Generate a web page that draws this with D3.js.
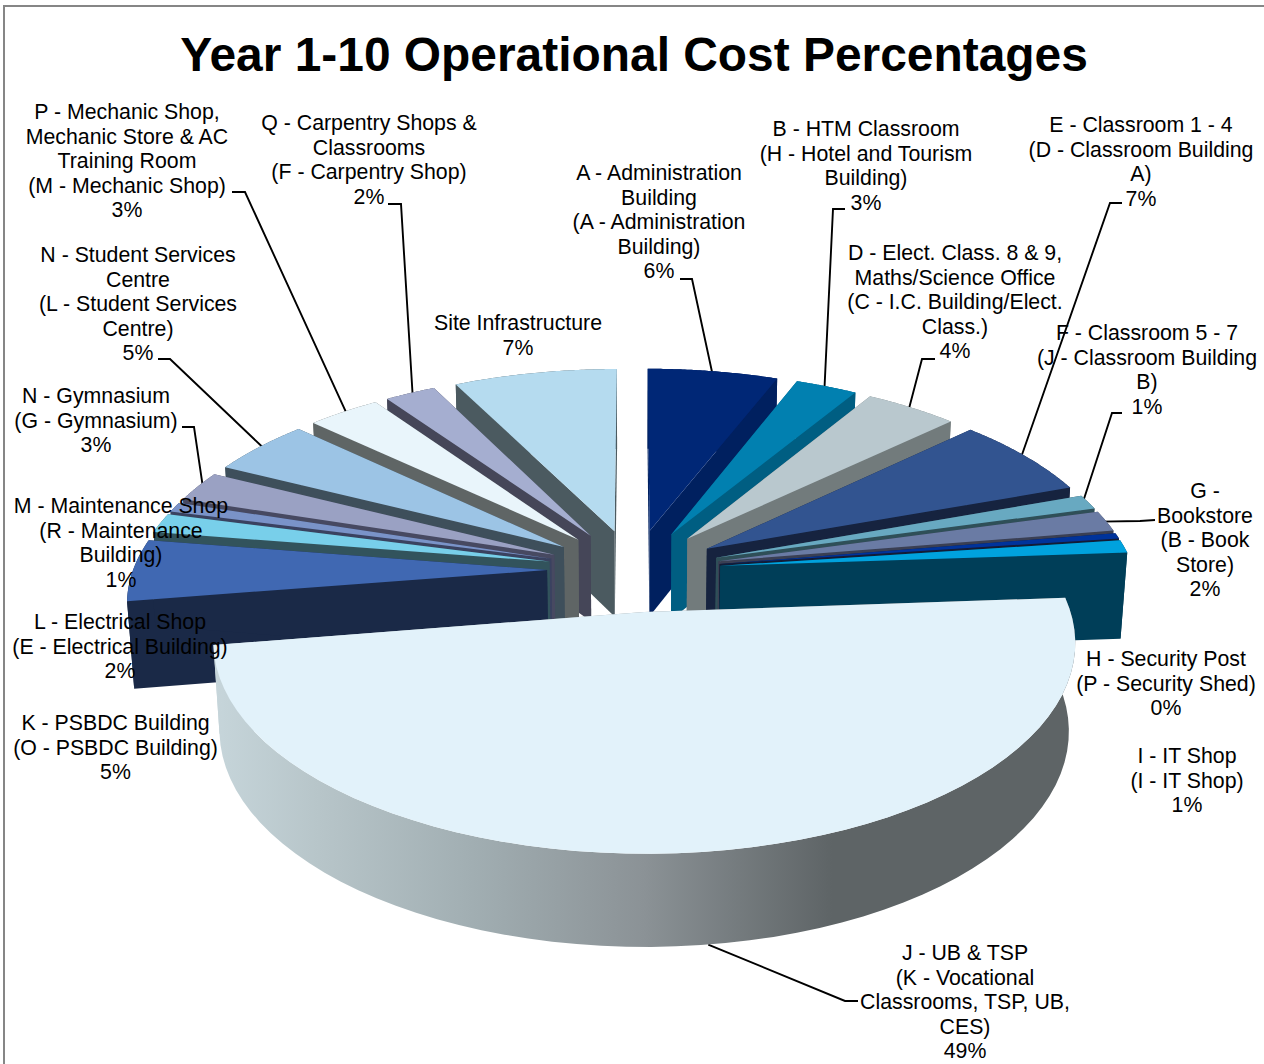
<!DOCTYPE html>
<html>
<head>
<meta charset="utf-8">
<title>Year 1-10 Operational Cost Percentages</title>
<script src="https://cdnjs.cloudflare.com/ajax/libs/d3/7.8.5/d3.min.js"></script>
<style>
  html, body { margin: 0; padding: 0; background: #fff; }
  svg { display: block; }
  text { font-family: "Liberation Sans", Arial, sans-serif; fill: #000; }
</style>
</head>
<body>
<svg id="chart" width="1264" height="1064"></svg>
<script>
// Cost share of each building, percent, clockwise from twelve o'clock
const categories = [
  ["A - Administration", "Building", "(A - Administration", "Building)"],
  ["B - HTM Classroom", "(H - Hotel and Tourism", "Building)"],
  ["D - Elect. Class. 8 & 9,", "Maths/Science Office", "(C - I.C. Building/Elect.", "Class.)"],
  ["E - Classroom 1 - 4", "(D - Classroom Building", "A)"],
  ["F - Classroom 5 - 7", "(J - Classroom Building", "B)"],
  ["G -", "Bookstore", "(B - Book", "Store)"],
  ["H - Security Post", "(P - Security Shed)"],
  ["I - IT Shop", "(I - IT Shop)"],
  ["J - UB & TSP", "(K - Vocational", "Classrooms, TSP, UB,", "CES)"],
  ["K - PSBDC Building", "(O - PSBDC Building)"],
  ["L - Electrical Shop", "(E - Electrical Building)"],
  ["M - Maintenance Shop", "(R - Maintenance", "Building)"],
  ["N - Gymnasium", "(G - Gymnasium)"],
  ["N - Student Services", "Centre", "(L - Student Services", "Centre)"],
  ["P - Mechanic Shop,", "Mechanic Store & AC", "Training Room", "(M - Mechanic Shop)"],
  ["Q - Carpentry Shops &", "Classrooms", "(F - Carpentry Shop)"],
  ["Site Infrastructure"]
];
const shares = [5.9, 2.8, 4.2, 6.6, 1.2, 1.7, 0.45, 1.05, 48.6, 5.0, 1.6, 0.8, 2.5, 4.6, 3.3, 2.3, 7.4];
const topColors = ["#002776", "#0180b0", "#b9c8ce", "#325490", "#68a9c1", "#6a7ba4", "#00339b", "#00a2de",
  "#e2f2fa", "#4068b2", "#78cfea", "#7a93c8", "#9aa1c3", "#9cc4e5", "#e9f5fb", "#a5aed0", "#b5dbef"];
const wallColors = ["#00205f", "#005e82", "#727b7c", "#16233f", "#2f4f58", "#3a3f53", "#131c36", "#003e58",
  "#5e6466", "#1a2947", "#32535c", "#3a4260", "#474961", "#3e4f5b", "#5f6565", "#454658", "#4b5a60"];

// Label block centres and leader elbows, in slice order
const labelLayout = [
  { x: 659, y: 173, elbow: [[680, 279], [692, 279]] },
  { x: 866, y: 129, elbow: [[845, 209], [833, 209]] },
  { x: 955, y: 253, elbow: [[935, 359], [922, 359]] },
  { x: 1141, y: 125, elbow: [[1122, 203], [1110, 203]] },
  { x: 1147, y: 333, elbow: [[1122, 413], [1112, 413]] },
  { x: 1205, y: 491, elbow: [[1155, 520], [1140, 521]] },
  { x: 1166, y: 659 },
  { x: 1187, y: 756 },
  { x: 965, y: 953, elbow: [[858, 1001], [845, 1001]], base: true, along: 0.495 },
  { x: 115.5, y: 723 },
  { x: 120, y: 622 },
  { x: 121, y: 506 },
  { x: 96, y: 396, elbow: [[182, 427], [194, 427]] },
  { x: 138, y: 255, elbow: [[158, 359], [170, 359]] },
  { x: 127, y: 112, elbow: [[232, 192], [245, 192]] },
  { x: 369, y: 123, elbow: [[388, 204], [401, 204]] },
  { x: 518, y: 323 }
];

const svg = d3.select("#chart");
const lineGap = 24.45;

// Chart frame: only the top and left edges fall inside the page
svg.append("rect").attr("x", 4).attr("y", 6).attr("width", 1300).attr("height", 1100)
  .attr("fill", "#fff").attr("stroke", "#868686").attr("stroke-width", 2);

svg.append("text").attr("x", 634).attr("y", 71).attr("text-anchor", "middle")
  .attr("font-size", 47.9).attr("font-weight", "bold")
  .text("Year 1-10 Operational Cost Percentages");

// Camera for the tilted pie: u runs right, v towards the viewer, z downwards.
// The base narrows less sideways than it drops, hence the separate x factor.
const view = { cx: 634, cy: 570, radius: 414, tilt: 195, depth: 89.5, persV: 0.14, persZ: 0.032, persZx: 0.014, explode: 0.21 };
function project(u, v, z) {
  const w = 1 / (1 - view.persV * v + view.persZ * z);
  const wx = 1 / (1 - view.persV * v + view.persZx * z);
  return [view.cx + view.radius * u * wx, view.cy + (view.tilt * v + view.depth * z) * w];
}

const slices = d3.pie().sort(null).value(d => d)(shares).map((s, i) => {
  const mid = (s.startAngle + s.endAngle) / 2;
  return { ...s, i, mid, ox: view.explode * Math.sin(mid), oy: -view.explode * Math.cos(mid) };
});
const pt = (s, a, r, z) => project(s.ox + r * Math.sin(a), s.oy - r * Math.cos(a), z);
const arcPts = (s, z) => d3.range(0, 61).map(k =>
  pt(s, s.startAngle + (s.endAngle - s.startAngle) * k / 60, 1, z));
const outline = d3.line();

// Shaded rim of the large front slice
const defs = svg.append("defs");
const rimGrad = defs.append("linearGradient").attr("id", "rimShade")
  .attr("gradientUnits", "userSpaceOnUse").attr("x1", 216).attr("x2", 1072).attr("y1", 0).attr("y2", 0);
[[0, "#c6d5da"], [0.12, "#b7c5c9"], [0.3, "#a1aeb2"], [0.5, "#8b9296"], [0.72, "#5e6466"], [1, "#5e6466"]]
  .forEach(([o, c]) => rimGrad.append("stop").attr("offset", o).attr("stop-color", c));

// Leaders run underneath the slices and end on the rim
const leaderLayer = svg.append("g").attr("fill", "none").attr("stroke", "#000").attr("stroke-width", 1.9);
slices.forEach(s => {
  const l = labelLayout[s.i];
  if (!l.elbow) return;
  const a = s.startAngle + (s.endAngle - s.startAngle) * (l.along ?? 0.5);
  const end = pt(s, a, l.base ? 1 : 0.985, l.base ? 1 : 0);
  leaderLayer.append("path").attr("d", outline([...l.elbow, end]));
});

// Painter's order: back slices first, working round both sides, front slice last
const big = shares.indexOf(d3.max(shares));
const drawOrder = slices.map(s => s.i)
  .filter(i => i !== big)
  .sort((a, b) => Math.sin(slices[a].mid / 2) - Math.sin(slices[b].mid / 2))
  .concat(big);

const pieLayer = svg.append("g");
drawOrder.forEach(i => {
  const s = slices[i];
  const g = pieLayer.append("g");
  const wall = i === big ? "url(#rimShade)" : wallColors[i];
  const topArc = arcPts(s, 0), baseArc = arcPts(s, 1);
  g.append("path").attr("d", outline([...topArc, ...baseArc.slice().reverse()]) + "Z").attr("fill", wall);
  [s.startAngle, s.endAngle].forEach(a => {
    g.append("path").attr("fill", wall).attr("d", outline([
      pt(s, a, 0, 0), pt(s, a, 1, 0), pt(s, a, 1, 1), pt(s, a, 0, 1)
    ]) + "Z");
  });
  g.append("path").attr("fill", topColors[i]).attr("d", outline([pt(s, s.mid, 0, 0), ...topArc]) + "Z");
});

// Labels sit above everything, each ending in its rounded percentage
const pct = d3.format(".0f");
const labelLayer = svg.append("g").attr("font-size", 21.3).attr("text-anchor", "middle");
categories.forEach((lines, i) => {
  const l = labelLayout[i];
  [...lines, pct(shares[i]) + "%"].forEach((t, k) => {
    labelLayer.append("text").attr("x", l.x).attr("y", l.y + k * lineGap).attr("dy", "0.35em").text(t);
  });
});
</script>
</body>
</html>
